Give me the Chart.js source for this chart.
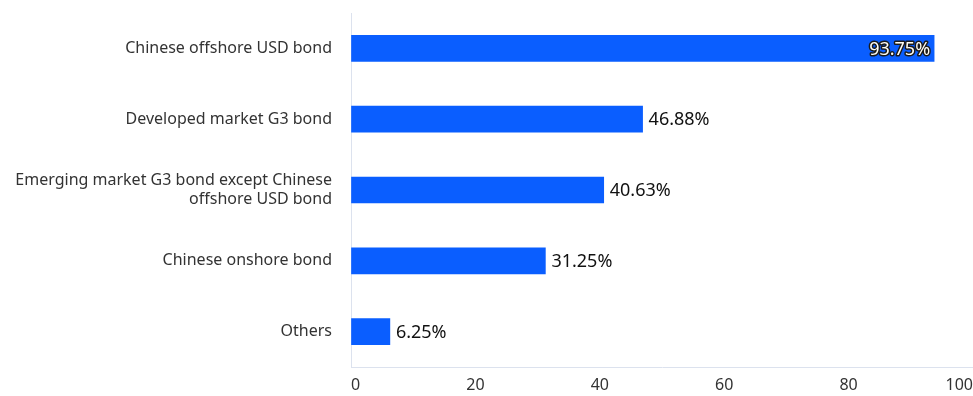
<!DOCTYPE html>
<html>
<head>
<meta charset="utf-8">
<script src="https://cdn.jsdelivr.net/npm/chart.js@4/dist/chart.umd.min.js"></script>
<style>
  html, body { margin: 0; padding: 0; background: #fff; }
  #wrap { width: 973px; height: 396px; position: relative; }
</style>
</head>
<body>
<div id="wrap"><canvas id="result"></canvas></div>
<script>
const categories = [
  'Chinese offshore USD bond',
  'Developed market G3 bond',
  ['Emerging market G3 bond except Chinese', 'offshore USD bond'],
  'Chinese onshore bond',
  'Others'
]
const shares = [93.75, 46.88, 40.63, 31.25, 6.25]
const xTicks = [0, 20, 40, 60, 80, 100]

const barColor = '#0A5EFF'
const axisColor = '#DCE2EE'
const fontFamily = '"Noto Sans", "DejaVu Sans", sans-serif'

Chart.defaults.font.family = fontFamily

// percentage next to each bar; goes inside the bar when it would run off the edge
const valueLabels = {
  id: 'valueLabels',
  afterDatasetsDraw (chart) {
    const ctx = chart.ctx
    const meta = chart.getDatasetMeta(0)
    ctx.save()
    ctx.font = '18px ' + fontFamily
    ctx.textBaseline = 'middle'
    meta.data.forEach((bar, i) => {
      const text = shares[i].toFixed(2) + '%'
      const w = ctx.measureText(text).width
      if (bar.x + 6 + w > chart.chartArea.right) {
        ctx.textAlign = 'right'
        ctx.lineJoin = 'round'
        ctx.lineWidth = 3
        ctx.strokeStyle = '#1b1b1b'
        ctx.strokeText(text, bar.x - 4, bar.y + 1)
        ctx.fillStyle = '#fffdf5'
        ctx.fillText(text, bar.x - 4, bar.y + 1)
      } else {
        ctx.textAlign = 'left'
        ctx.fillStyle = '#111'
        ctx.fillText(text, bar.x + 6, bar.y + 1)
      }
    })
    ctx.restore()
  }
}

// keep the plot area flush with the fixed axis sizes
function noScalePadding (scale) {
  scale.paddingTop = 0
  scale.paddingBottom = 0
  scale.paddingLeft = 0
  scale.paddingRight = 0
}

new Chart(document.getElementById('result'), {
  type: 'bar',
  data: {
    labels: categories,
    datasets: [{
      data: shares,
      backgroundColor: barColor,
      barThickness: 26,
      borderWidth: 0
    }]
  },
  options: {
    indexAxis: 'y',
    responsive: true,
    maintainAspectRatio: false,
    animation: false,
    layout: { padding: { top: 13, right: 0, bottom: 0, left: 0 } },
    plugins: {
      legend: { display: false },
      tooltip: { enabled: false }
    },
    scales: {
      x: {
        min: 0,
        max: 100,
        afterBuildTicks: (scale) => { scale.ticks = xTicks.map(v => ({ value: v })) },
        afterFit: (scale) => { scale.height = 29; noScalePadding(scale) },
        grid: { display: true, drawOnChartArea: false, drawTicks: false },
        border: { display: true, color: axisColor, width: 1 },
        ticks: {
          align: 'inner',
          padding: 9,
          color: '#333',
          font: { size: 16 }
        }
      },
      y: {
        afterFit: (scale) => { scale.width = 351; noScalePadding(scale) },
        grid: { display: true, drawOnChartArea: false, drawTicks: false },
        border: { display: true, color: axisColor, width: 1 },
        ticks: {
          padding: 19,
          color: '#333',
          font: { size: 16, lineHeight: 1.2 }
        }
      }
    }
  },
  plugins: [valueLabels]
})
</script>
</body>
</html>
